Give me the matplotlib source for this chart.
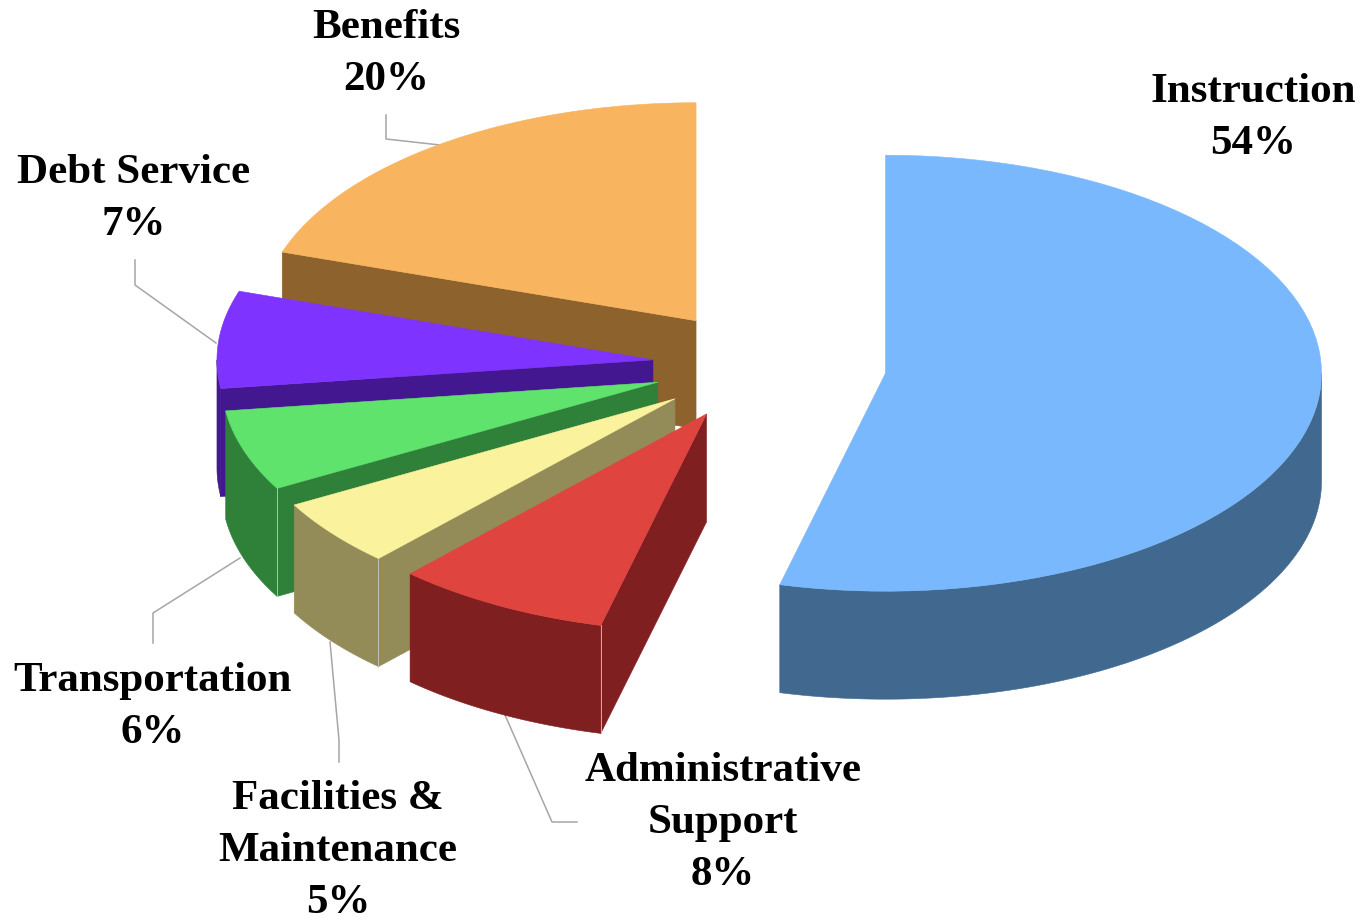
import numpy as np
import matplotlib
matplotlib.use('Agg')
import matplotlib.pyplot as plt
from matplotlib.patches import Polygon

# Slices, clockwise from 12 o'clock
categories = ['Instruction', 'Administrative\nSupport', 'Facilities &\nMaintenance',
              'Transportation', 'Debt Service', 'Benefits']
shares = [53.9, 8.0, 5.0, 6.0, 7.2, 19.9]

# Look of the slices
top_colors = ['#7AB8FD', '#E0443F', '#FBF29E', '#60E36C', '#7F33FF', '#F8B45E']
side_colors = ['#41698F', '#7F1F1F', '#938C58', '#2F8038', '#42178F', '#8E622C']
explode = [129, 107, 105, 105, 105, 105]
wall_line = [False, True, True, True, False, False]

# Pie geometry in pixels
center_x, center_y = 757.5, 365
radius_x, radius_y = 436, 218
depth = 108
explode_squash = 0.52

# Label placement: centre x, first baseline y
label_pos = [(1253, 102), (723, 781), (338, 809), (153, 691), (134, 183), (386, 38)]
line_gap = 52

leaders = [
    [(505, 715), (552, 822), (577, 822)],
    [(330, 642), (339, 740), (339, 762)],
    [(240, 558), (153, 613), (153, 643)],
    [(216, 343), (135, 285), (135, 260)],
    [(440, 145), (386, 139), (386, 115)],
]

fig = plt.figure(figsize=(13.64, 9.23), dpi=100)
ax = fig.add_axes([0, 0, 1, 1])
ax.set_xlim(0, 1364)
ax.set_ylim(923, 0)
ax.axis('off')


def rim(ox, oy, deg):
    a = np.radians(deg)
    return ox + radius_x * np.sin(a), oy - radius_y * np.cos(a)


def arc_points(ox, oy, a1, a2):
    xs, ys = rim(ox, oy, np.linspace(a1, a2, 80))
    return np.column_stack([xs, ys])


def face(pts, color, z):
    ax.add_patch(Polygon(pts, closed=True, facecolor=color, edgecolor=color,
                         linewidth=0.4, zorder=z))


for pts in leaders:
    ax.plot(*zip(*pts), color='#A6A6A6', lw=1.1, zorder=1)

edges = np.concatenate([[0], np.cumsum(shares)]) * 3.6
# back slices first, so the front ones cover them
order = [5, 4, 3, 2, 1, 0]
for n, i in enumerate(order):
    a1, a2 = edges[i], edges[i + 1]
    mid = np.radians((a1 + a2) / 2)
    ox = center_x + explode[i] * np.sin(mid)
    oy = center_y - explode[i] * explode_squash * np.cos(mid)
    z = 2 + n * 5

    # flat cut faces, only when they look towards the viewer
    for a, normal in ((a1, a1 - 90), (a2, a2 + 90)):
        if np.cos(np.radians(normal)) < -1e-6:
            x, y = rim(ox, oy, a)
            face([(ox, oy), (x, y), (x, y + depth), (ox, oy + depth)], side_colors[i], z)

    # curved outer wall, front half of the ellipse only
    lo, hi = max(a1, 90), min(a2, 270)
    if hi > lo:
        top = arc_points(ox, oy, lo, hi)
        low = top[::-1] + [0, depth]
        face(np.vstack([top, low]), side_colors[i], z + 1)
        # thin light line where the wall meets a cut face
        if wall_line[i]:
            x, y = rim(ox, oy, a1)
            ax.plot([x, x], [y, y + depth], color='#C8C8C8', lw=0.6, zorder=z + 2)

    # top of the slice
    face(np.vstack([[ox, oy], arc_points(ox, oy, a1, a2)]), top_colors[i], z + 3)

for name, share, (x, y) in zip(categories, shares, label_pos):
    lines = name.split('\n') + [f'{share:.0f}%']
    for k, line in enumerate(lines):
        ax.text(x, y + k * line_gap, line, ha='center', va='baseline', fontsize=31,
                fontweight='bold', family='Liberation Serif', color='black', zorder=50)

fig.savefig('out.png', dpi=100)
